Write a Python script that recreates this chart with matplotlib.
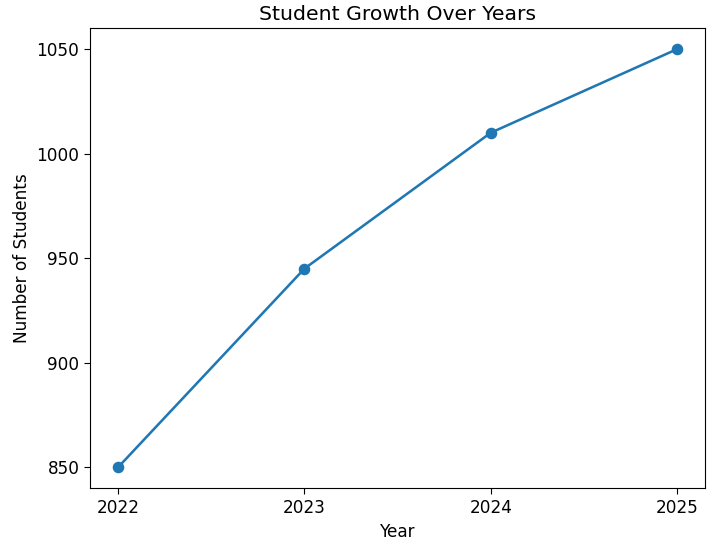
import matplotlib
matplotlib.use("Agg")
import matplotlib.pyplot as plt
from matplotlib.ticker import MultipleLocator

years = [2022, 2023, 2024, 2025]
students = [850, 945, 1010, 1050]

s = 1.22
plt.rcParams['font.size'] = 10 * s

fig = plt.figure(figsize=(7.1, 5.43), dpi=100)
ax = fig.add_subplot(111)
ax.plot(years, students, marker='o', linewidth=1.5 * s, markersize=6 * s)
ax.set_title('Student Growth Over Years', fontsize=12 * s)
ax.set_xlabel('Year')
ax.set_ylabel('Number of Students')
ax.set_xticks(years)
ax.yaxis.set_major_locator(MultipleLocator(50))
ax.tick_params(length=3.5 * s)
fig.subplots_adjust(left=0.127, right=0.993, top=0.948, bottom=0.101)
fig.savefig('out.png', dpi=100)
